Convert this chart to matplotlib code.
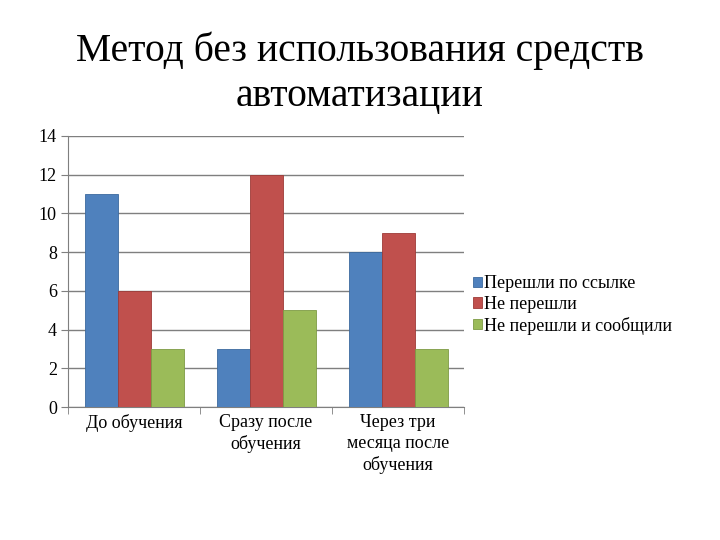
import matplotlib.pyplot as plt
import numpy as np

plt.rcParams['font.family'] = ['Liberation Serif', 'DejaVu Serif']

categories = ["До обучения", "Сразу после\nобучения", "Через три\nмесяца после\nобучения"]
series_names = ["Перешли по ссылке", "Не перешли", "Не перешли и сообщили"]
clicked = [11, 3, 8]
not_clicked = [6, 12, 9]
reported = [3, 5, 3]
colors = ["#4F81BD", "#C0504D", "#9BBB59"]
edges = ["#3C6A9E", "#9E3B38", "#7E9B45"]

fig = plt.figure(figsize=(7.2, 5.4), dpi=100)
ax = fig.add_axes([68 / 720, 1 - 407 / 540, (464 - 68) / 720, (407 - 136) / 540])

x = np.arange(len(categories))
w = 0.25
for i, vals in enumerate([clicked, not_clicked, reported]):
    ax.bar(x + (i - 1) * w, vals, w, color=colors[i], edgecolor=edges[i],
           linewidth=0.6, label=series_names[i], zorder=3)

ax.set_xlim(-0.5, 2.5)
ax.set_ylim(0, 14)
ax.set_yticks(np.arange(0, 15, 2))
ax.yaxis.grid(True, color="#7F7F7F", linewidth=1.0, zorder=0)
ax.set_axisbelow(True)

ax.set_xticks(x)
ax.set_xticklabels(categories, fontsize=13, linespacing=1.3, va="top")
ax.set_xticks([-0.5, 0.5, 1.5, 2.5], minor=True)
ax.tick_params(axis="x", which="major", length=0, pad=5)
ax.tick_params(axis="x", which="minor", length=5, direction="out", color="#7F7F7F")
ax.tick_params(axis="y", length=5, direction="out", color="#7F7F7F", labelsize=13, pad=3)

for s in ["top", "right"]:
    ax.spines[s].set_visible(False)
ax.spines["left"].set_color("#7F7F7F")
ax.spines["bottom"].set_color("#7F7F7F")

fig.text(0.5, 1 - 73 / 540, "Метод без использования средств\nавтоматизации",
         ha="center", va="center", fontsize=28.5, linespacing=1.3)

fig.legend(loc="center left", bbox_to_anchor=(466 / 720, 1 - 305 / 540), frameon=False,
           fontsize=13, handlelength=0.5, handleheight=0.5, handletextpad=0.1,
           labelspacing=0.2, borderaxespad=0)

fig.savefig("out.png", dpi=100)
